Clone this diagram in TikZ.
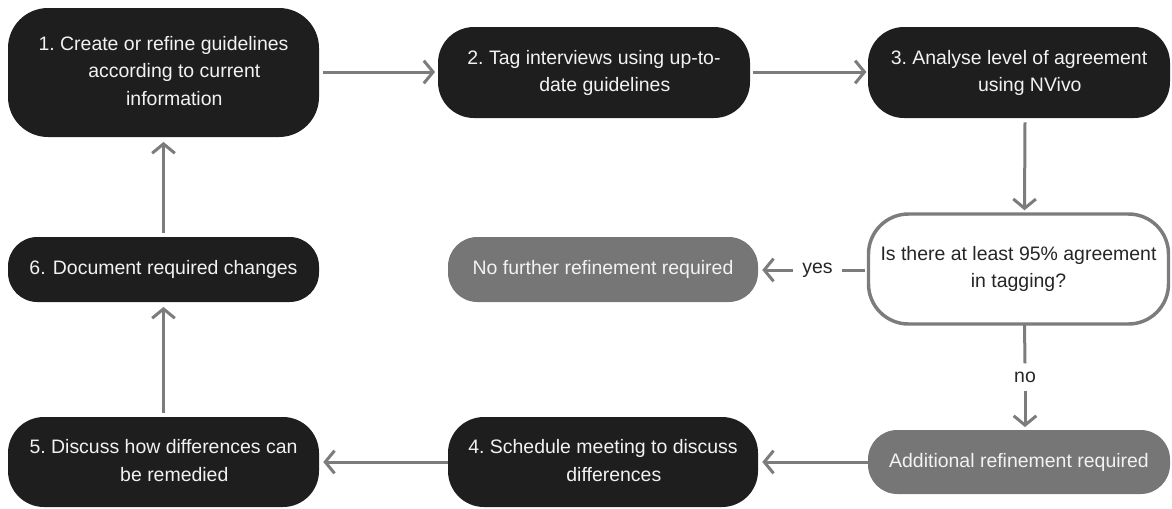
\documentclass[tikz,border=0pt]{standalone}
\usepackage{fontspec}
\setmainfont{Liberation Sans}
\usetikzlibrary{arrows.meta}
\definecolor{boxblack}{HTML}{1E1E1E}
\definecolor{boxgrey}{HTML}{767676}
\definecolor{linegrey}{HTML}{7C7C7C}
\definecolor{txtwhite}{HTML}{F2F2F2}
\definecolor{txtdark}{HTML}{262626}
\newcommand{\steptext}[2]{#1\ \begin{tabular}[t]{@{}c@{}}#2\end{tabular}}
\begin{document}
\begin{tikzpicture}[x=0.75pt,y=-0.75pt,
  every node/.style={font=\fontsize{14.6}{20.5}\selectfont, inner sep=0pt},
  stepbox/.style={rectangle, fill=boxblack, text=txtwhite, align=center},
  greybox/.style={rectangle, fill=boxgrey, text=txtwhite, align=center},
  askbox/.style={rectangle, draw=linegrey, line width=2.6pt, fill=white, text=txtdark, align=center},
  flow/.style={draw=linegrey, line width=2.25pt, -{Straight Barb[length=7pt,width=17pt,line width=2.25pt]}},
  plain/.style={draw=linegrey, line width=2.25pt},
  lbl/.style={text=txtdark, inner xsep=7pt}]
\useasboundingbox (0,0) rectangle (1172,508);

% process steps
\node[stepbox, minimum width=311*0.75pt, minimum height=129*0.75pt, rounded corners=30pt] (s1) at (163.5,72.5)
  {\steptext{1.}{Create or refine guidelines\\according to current\\information}};
\node[stepbox, minimum width=312*0.75pt, minimum height=91*0.75pt, rounded corners=27pt] (s2) at (594,72.5)
  {\steptext{2.}{Tag interviews using up-to-\\date guidelines}};
\node[stepbox, minimum width=302*0.75pt, minimum height=91*0.75pt, rounded corners=27pt] (s3) at (1019,72.5)
  {\steptext{3.}{Analyse level of agreement\\using NVivo}};
\node[askbox, minimum width=300*0.75pt, minimum height=110*0.75pt, rounded corners=30pt] (ask) at (1018.5,269)
  {Is there at least 95\% agreement\\in tagging?};
\node[greybox, minimum width=310*0.75pt, minimum height=65*0.75pt, rounded corners=22pt] (done) at (603,269.5)
  {No further refinement required};
\node[greybox, minimum width=302*0.75pt, minimum height=64*0.75pt, rounded corners=22pt] (more) at (1019,462)
  {Additional refinement required};
\node[stepbox, minimum width=310*0.75pt, minimum height=90*0.75pt, rounded corners=27pt] (s4) at (603,462)
  {\steptext{4.}{Schedule meeting to discuss\\differences}};
\node[stepbox, minimum width=311*0.75pt, minimum height=90*0.75pt, rounded corners=27pt] (s5) at (163.5,462)
  {\steptext{5.}{Discuss how differences can\\be remedied}};
\node[stepbox, minimum width=311*0.75pt, minimum height=65*0.75pt, rounded corners=22pt] (s6) at (163.5,269.5)
  {6. Document required changes};

% branch labels
\node[lbl] (yes) at (817.5,270) {yes};
\node[lbl, inner ysep=6pt] (no) at (1025,377) {no};

% connectors
\draw[flow] ([xshift=3pt]s1.east |- 0,72) -- ([xshift=-2pt]s2.west |- 0,72);
\draw[flow] ([xshift=2pt]s2.east |- 0,72) -- ([xshift=-1pt]s3.west |- 0,72);
\draw[flow] ([xshift=4.5pt,yshift=-3pt]s3.south) -- ([xshift=4.5pt,yshift=1.5pt]ask.north);
\draw[plain] ([xshift=-1pt]ask.west |- yes) -- (yes.east);
\draw[flow] (yes.west) -- ([xshift=3pt]done.east |- yes);
\draw[plain] ([xshift=4.5pt,yshift=1pt]ask.south) -- (no.north);
\draw[flow] (no.south) -- ([yshift=2pt]more.north -| no);
\draw[flow] (more.west) -- ([xshift=3pt]s4.east);
\draw[flow] (s4.west) -- ([xshift=3pt]s5.east);
\draw[flow] ([yshift=3pt]s5.north) -- ([yshift=-3.5pt]s6.south);
\draw[flow] ([yshift=3pt]s6.north) -- ([yshift=-3.5pt]s1.south);
\end{tikzpicture}
\end{document}
